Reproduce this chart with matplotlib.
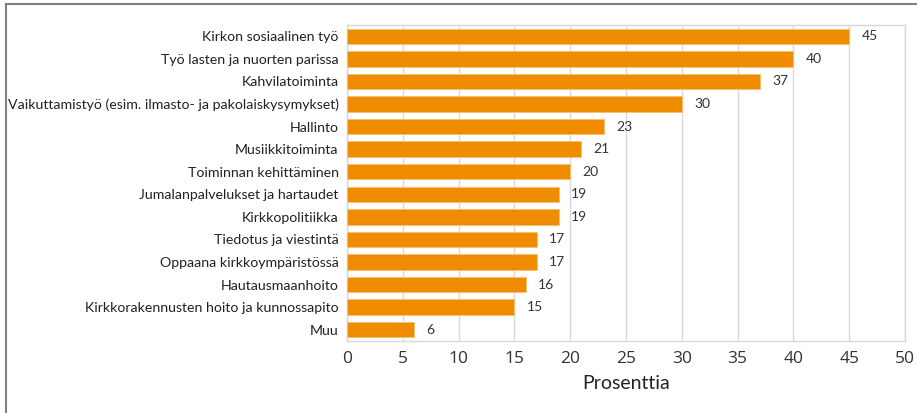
import matplotlib.pyplot as plt
from matplotlib.lines import Line2D

categories = [
    "Kirkon sosiaalinen työ",
    "Työ lasten ja nuorten parissa",
    "Kahvilatoiminta",
    "Vaikuttamistyö (esim. ilmasto- ja pakolaiskysymykset)",
    "Hallinto",
    "Musiikkitoiminta",
    "Toiminnan kehittäminen",
    "Jumalanpalvelukset ja hartaudet",
    "Kirkkopolitiikka",
    "Tiedotus ja viestintä",
    "Oppaana kirkkoympäristössä",
    "Hautausmaanhoito",
    "Kirkkorakennusten hoito ja kunnossapito",
    "Muu",
]
values = [45, 40, 37, 30, 23, 21, 20, 19, 19, 17, 17, 16, 15, 6]
xticks = [0, 5, 10, 15, 20, 25, 30, 35, 40, 45, 50]

W, H = 917, 413
fig = plt.figure(figsize=(W / 100, H / 100), dpi=100)
ax = fig.add_axes([347 / W, 1 - 341 / H, (905 - 347) / W, (341 - 25) / H])

ypos = list(range(len(categories)))[::-1]
ax.barh(ypos, values, height=0.68, color="#f08c00", edgecolor="#f8c070",
        linewidth=0.6, zorder=3)
for y, v in zip(ypos, values):
    ax.text(v + 1.1, y, str(v), va="center", ha="left", fontsize=10,
            color="#333333", family="Lato")

ax.set_xlim(0, 50)
ax.set_ylim(-0.5, len(categories) - 0.5)
ax.set_xticks(xticks)
ax.set_xticklabels([str(t) for t in xticks], fontsize=12.5, color="#333333",
                   family="Open Sans")
ax.set_yticks(ypos)
ax.set_yticklabels(categories, fontsize=10.2, color="#222222", family="Lato")
ax.tick_params(axis="both", length=0)
ax.tick_params(axis="y", pad=6)
ax.tick_params(axis="x", pad=7)
ax.grid(axis="x", color="#d9d9d9", linewidth=1, zorder=0)
for s in ax.spines.values():
    s.set_color("#d9d9d9")
    s.set_linewidth(1)
ax.set_xlabel("Prosenttia", fontsize=14, color="#222222", family="Lato",
              labelpad=6)

# outer frame
fig.add_artist(Line2D([6 / W, 6 / W], [0, 1 - 4 / H], color="#808080",
                      linewidth=1.5, transform=fig.transFigure))
fig.add_artist(Line2D([6 / W, 1], [1 - 4 / H, 1 - 4 / H], color="#808080",
                      linewidth=1.5, transform=fig.transFigure))

fig.savefig("out.png", dpi=100)
